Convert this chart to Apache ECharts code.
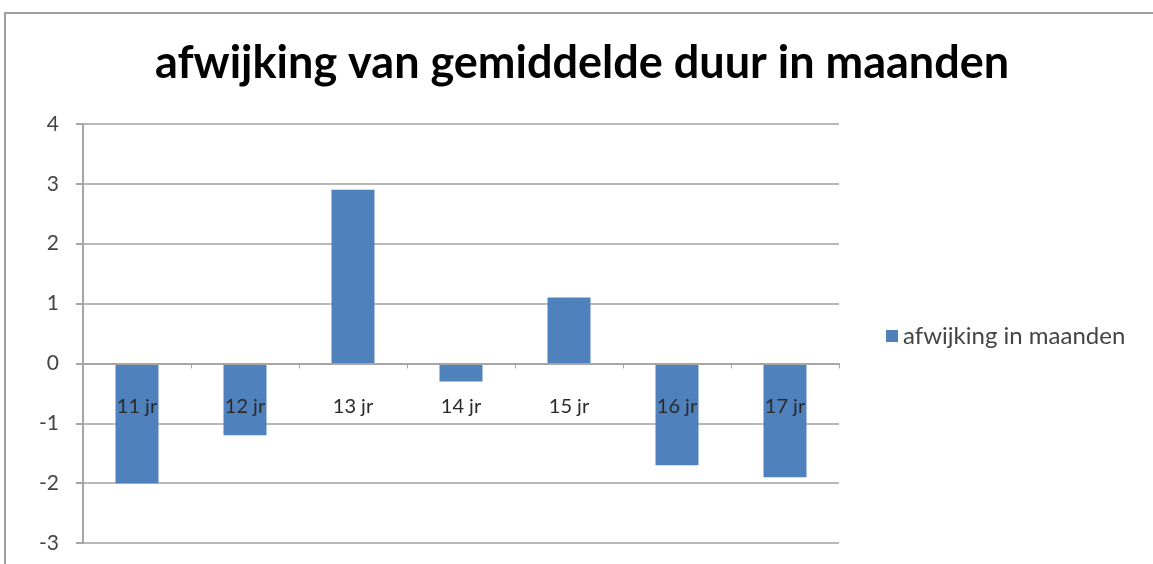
<!DOCTYPE html>
<html>
<head>
<meta charset="utf-8">
<script src="https://cdn.jsdelivr.net/npm/echarts@6/dist/echarts.min.js"></script>
<style>
  html, body { margin: 0; padding: 0; background: #fff; }
  #frame { position: absolute; left: 4px; top: 12px; right: 0; bottom: 0;
           border-top: 2px solid #a0a0a0; border-left: 2px solid #a0a0a0; }
  #chart { position: absolute; left: 0; top: 0; width: 1153px; height: 564px; }
</style>
</head>
<body>
<div id="frame"></div>
<div id="chart"></div>
<script>
var titleText = 'afwijking van gemiddelde duur in maanden';
var seriesName = 'afwijking in maanden';
var categories = ['11 jr', '12 jr', '13 jr', '14 jr', '15 jr', '16 jr', '17 jr'];
var values = [-2.0, -1.2, 2.9, -0.3, 1.1, -1.7, -1.9];
var yMin = -3, yMax = 4, yStep = 1;

// plot area
var gridTop = 124, gridBottom = 21, chartH = 564;
var plotH = chartH - gridTop - gridBottom;
// move the category axis up to the zero line (labels follow it)
var zeroOffset = -plotH * (0 - yMin) / (yMax - yMin);

var myChart = echarts.init(document.getElementById('chart'));

myChart.setOption({
    animation: false,
    title: {
        text: titleText,
        left: 150,
        top: 36,
        textStyle: {
            fontFamily: 'Lato',
            fontWeight: 'bold',
            fontSize: 45,
            color: '#000'
        }
    },
    legend: {
        data: [seriesName],
        left: 881,
        top: 319,
        itemWidth: 12,
        itemHeight: 12,
        itemGap: 11,
        icon: 'rect',
        textStyle: {
            fontFamily: 'Lato',
            fontSize: 24,
            color: '#444'
        }
    },
    grid: {
        left: 83,
        right: 314,
        top: gridTop,
        bottom: gridBottom,
        outerBoundsMode: 'none',
        containLabel: false
    },
    xAxis: {
        type: 'category',
        data: categories,
        position: 'bottom',
        offset: zeroOffset,
        z: 10,
        axisLine: { onZero: false, lineStyle: { color: '#a6a6a6', width: 2 } },
        axisTick: { show: true, inside: false, length: 5, lineStyle: { color: '#a6a6a6' } },
        axisLabel: {
            margin: 33,
            fontFamily: 'Lato',
            fontSize: 20,
            color: '#2a2a2a'
        },
        splitLine: { show: false }
    },
    yAxis: {
        type: 'value',
        min: yMin,
        max: yMax,
        interval: yStep,
        axisLine: { show: true, lineStyle: { color: '#a6a6a6', width: 2 } },
        axisTick: { show: true, length: 7, lineStyle: { color: '#a6a6a6', width: 2 } },
        axisLabel: {
            margin: 24,
            fontFamily: 'Lato',
            fontSize: 21,
            color: '#444'
        },
        splitLine: { lineStyle: { color: '#b8b8b8', width: 2 } }
    },
    series: [
        {
            name: seriesName,
            type: 'bar',
            data: values,
            barWidth: 43,
            itemStyle: { color: '#4f81bd' }
        }
    ]
});
</script>
</body>
</html>
